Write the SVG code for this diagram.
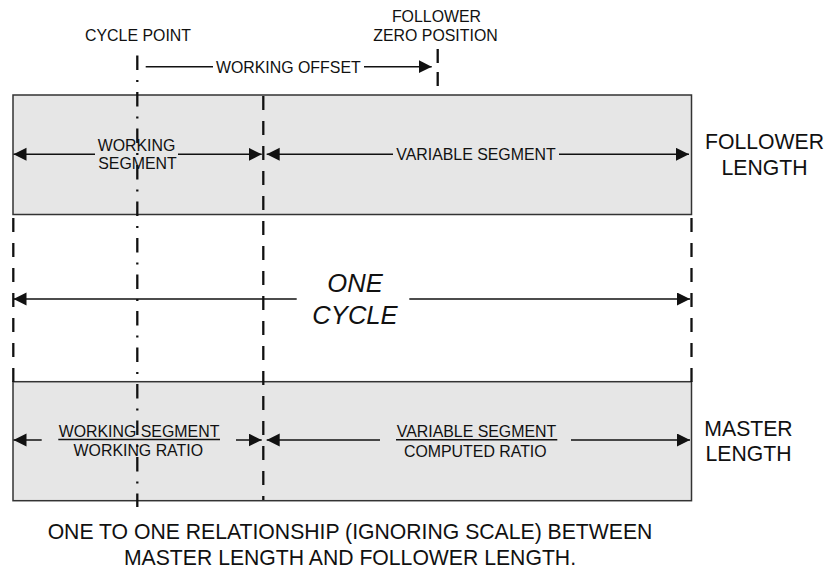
<svg xmlns="http://www.w3.org/2000/svg" width="830" height="569" viewBox="0 0 830 569">
<style>
text { font-family: "Liberation Sans", Arial, sans-serif; fill: #111; text-anchor: middle; }
.s { font-size: 15.9px; }
.l { font-size: 21.2px; }
.c { font-size: 25.6px; font-style: italic; }
.box { fill: #e6e6e6; stroke: #333; stroke-width: 1.5; }
.arr { stroke: #111; stroke-width: 1.5; fill: none; }
.arrm { stroke: #111; stroke-width: 1.5; fill: none; marker-end: url(#ah); }
.dash { stroke: #111; stroke-width: 2.3; fill: none; stroke-dasharray: 14 11; }
.dd { stroke: #111; stroke-width: 2.3; fill: none; stroke-dasharray: 14.5 10 2 10; }
.bar { stroke: #111; stroke-width: 1.6; }
</style>
<defs>
<marker id="ah" markerUnits="userSpaceOnUse" markerWidth="14" markerHeight="14" refX="13" refY="6.5" orient="auto">
<path d="M0,0 L13,6.5 L0,13 z" fill="#111"/>
</marker>
</defs>
<rect width="830" height="569" fill="#fff"/>
<g id="follower-length">
<rect class="box" x="13" y="95" width="678.5" height="119.5"/>
<text class="l" x="764.5" y="149.3">FOLLOWER</text>
<text class="l" x="764.5" y="175">LENGTH</text>
</g>
<g id="master-length">
<rect class="box" x="13" y="381.7" width="678.5" height="119"/>
<text class="l" x="748.5" y="435.7">MASTER</text>
<text class="l" x="748.5" y="461">LENGTH</text>
</g>
<g id="reference-lines">
<line class="dd" x1="137.3" y1="55.5" x2="137.3" y2="507"/>
<line class="dash" x1="263.3" y1="96" x2="263.3" y2="500"/>
<line class="dash" x1="13.3" y1="218" x2="13.3" y2="382"/>
<line class="dash" x1="691.5" y1="218" x2="691.5" y2="382"/>
<line class="dash" x1="437.7" y1="49" x2="437.7" y2="88" style="stroke-dasharray:14 9"/>
</g>
<g id="connectors">
<line class="arr" x1="145.7" y1="66.7" x2="213" y2="66.7"/>
<line class="arrm" x1="364" y1="66.7" x2="431.7" y2="66.7"/>
<line class="arrm" x1="95" y1="154.3" x2="13.5" y2="154.3"/>
<line class="arrm" x1="178" y1="154.3" x2="261.7" y2="154.3"/>
<line class="arrm" x1="393" y1="154.3" x2="266.7" y2="154.3"/>
<line class="arrm" x1="559" y1="154.3" x2="689" y2="154.3"/>
<line class="arrm" x1="296.7" y1="299" x2="13.5" y2="299"/>
<line class="arrm" x1="409.3" y1="299" x2="690" y2="299"/>
<line class="arrm" x1="41.7" y1="440" x2="13.5" y2="440"/>
<line class="arrm" x1="236" y1="440" x2="261.7" y2="440"/>
<line class="arrm" x1="380" y1="440" x2="266.7" y2="440"/>
<line class="arrm" x1="571" y1="440" x2="690" y2="440"/>
</g>
<g id="labels">
<text class="s" x="138" y="40.7">CYCLE POINT</text>
<text class="s" x="436.5" y="21.7">FOLLOWER</text>
<text class="s" x="435.5" y="40.7">ZERO POSITION</text>
<text class="s" x="288.3" y="72.5">WORKING OFFSET</text>
<text class="s" x="136.5" y="150.7">WORKING</text>
<text class="s" x="137.5" y="169.3">SEGMENT</text>
<text class="s" x="476" y="160">VARIABLE SEGMENT</text>
<text class="c" x="355" y="291.7">ONE</text>
<text class="c" x="355" y="324">CYCLE</text>
<text class="s" x="139" y="436.5">WORKING SEGMENT</text>
<line class="bar" x1="58.3" y1="439.5" x2="220" y2="439.5"/>
<text class="s" x="138.3" y="456">WORKING RATIO</text>
<text class="s" x="476.5" y="436.8">VARIABLE SEGMENT</text>
<line class="bar" x1="396" y1="439.8" x2="557.3" y2="439.8"/>
<text class="s" x="475.3" y="457">COMPUTED RATIO</text>
<text class="l" x="350" y="539">ONE TO ONE RELATIONSHIP (IGNORING SCALE) BETWEEN</text>
<text class="l" x="350" y="565">MASTER LENGTH AND FOLLOWER LENGTH.</text>
</g>
</svg>
